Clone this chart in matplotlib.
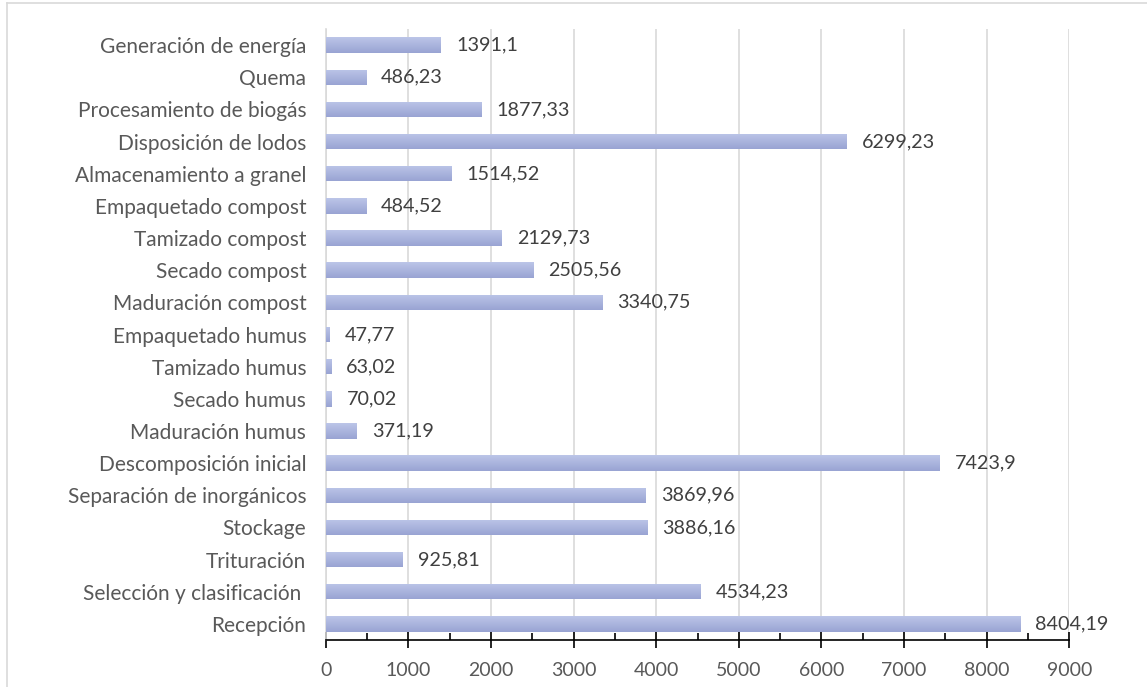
import matplotlib
matplotlib.use("Agg")
import matplotlib.pyplot as plt
import numpy as np
from matplotlib.colors import LinearSegmentedColormap
from matplotlib.lines import Line2D
from matplotlib.ticker import MultipleLocator

# Process stages (top to bottom) and their values
stages = [
    "Generación de energía",
    "Quema",
    "Procesamiento de biogás",
    "Disposición de lodos",
    "Almacenamiento a granel",
    "Empaquetado compost",
    "Tamizado compost",
    "Secado compost",
    "Maduración compost",
    "Empaquetado humus",
    "Tamizado humus",
    "Secado humus",
    "Maduración humus",
    "Descomposición inicial",
    "Separación de inorgánicos",
    "Stockage",
    "Trituración",
    "Selección y clasificación ",
    "Recepción",
]
values = [
    1391.1, 486.23, 1877.33, 6299.23, 1514.52, 484.52, 2129.73, 2505.56,
    3340.75, 47.77, 63.02, 70.02, 371.19, 7423.9, 3869.96, 3886.16,
    925.81, 4534.23, 8404.19,
]
value_labels = [str(v).replace(".", ",") for v in values]
x_ticks = list(range(0, 9001, 1000))

FONT = "Lato"
LABEL_COLOR = "#595959"
VALUE_COLOR = "#404040"
GRID_COLOR = "#d9d9d9"

fig = plt.figure(figsize=(11.47, 6.87), dpi=100)
ax = fig.add_axes([0.284, 0.0684, 0.6483, 0.8894])

y = np.arange(len(stages))
bars = ax.barh(y, values, height=0.48, color="#aab3dd", edgecolor="none", zorder=2)

# vertical gradient fill inside each bar
grad_cmap = LinearSegmentedColormap.from_list("bar", ["#bcc5e8", "#99a4d3"])
grad = np.linspace(0, 1, 64).reshape(-1, 1)
for rect in bars:
    x0, y0 = rect.get_x(), rect.get_y()
    w, h = rect.get_width(), rect.get_height()
    im = ax.imshow(grad, cmap=grad_cmap, aspect="auto",
                   extent=(x0, x0 + w, y0 + h, y0), origin="upper",
                   interpolation="bilinear", zorder=3)
    im.set_clip_path(rect)

for yi, v, lab in zip(y, values, value_labels):
    ax.annotate(lab, (v, yi), xytext=(11, 0), textcoords="offset points",
                va="center", ha="left", fontsize=14.2, color=VALUE_COLOR,
                family=FONT, zorder=4)

ax.set_xlim(0, 9000)
ax.set_ylim(len(stages) - 0.5, -0.5)

ax.set_yticks(y)
ax.set_yticklabels(stages, fontsize=15, color=LABEL_COLOR, family=FONT)
ax.tick_params(axis="y", length=0, pad=14)

ax.xaxis.set_major_locator(MultipleLocator(1000))
ax.xaxis.set_minor_locator(MultipleLocator(500))
ax.set_xticks(x_ticks)
ax.set_xticklabels([str(t) for t in x_ticks], fontsize=14,
                   color=LABEL_COLOR, family=FONT)
ax.tick_params(axis="x", which="major", direction="inout", length=11,
               width=1.2, color="black", pad=10)
ax.tick_params(axis="x", which="minor", direction="in", length=5,
               width=1.2, color="black")

ax.grid(axis="x", which="major", color=GRID_COLOR, linewidth=1.2, zorder=0)
ax.set_axisbelow(True)

for side in ("top", "right"):
    ax.spines[side].set_visible(False)
ax.spines["left"].set_color(GRID_COLOR)
ax.spines["left"].set_linewidth(1.2)
ax.spines["bottom"].set_color("black")
ax.spines["bottom"].set_linewidth(1.2)
ax.spines["bottom"].set_zorder(5)

# outer frame
W, H = 1147, 687
fig.add_artist(Line2D([7.5 / W, 1], [1 - 2.5 / H, 1 - 2.5 / H],
                      transform=fig.transFigure, color=GRID_COLOR, lw=1.2))
fig.add_artist(Line2D([7.5 / W, 7.5 / W], [0, 1 - 2.5 / H],
                      transform=fig.transFigure, color=GRID_COLOR, lw=1.2))

fig.savefig("out.png", dpi=100, facecolor="white")
